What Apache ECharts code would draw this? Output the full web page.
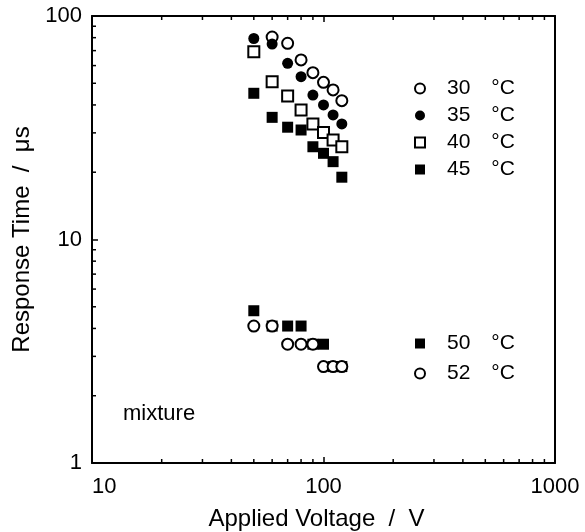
<!DOCTYPE html>
<html>
<head>
<meta charset="utf-8">
<script src="https://cdn.jsdelivr.net/npm/echarts@6/dist/echarts.min.js"></script>
<style>html,body{margin:0;padding:0;background:#fff;}#c{width:585px;height:532px;}</style>
</head>
<body>
<div id="c"></div>
<script>
const voltages = [50, 60, 70, 80, 90, 100, 110, 120];
const t30 = [null, 80.5, 75.5, 63.6, 55.8, 50.5, 46.7, 41.8];
const t35 = [79.3, 74.9, 61.4, 53.5, 44.3, 40.0, 36.1, 32.9];
const t40 = [69.2, 50.8, 43.9, 38.0, 32.9, 30.1, 27.9, 26.0];
const t45 = [45.1, 35.2, 31.8, 30.9, 26.0, 24.3, 22.3, 19.0];
const t50 = [4.8, 4.1, 4.1, 4.1, 3.4, 3.4, 2.7, 2.7];
const t52 = [4.1, 4.1, 3.4, 3.4, 3.4, 2.7, 2.7, 2.7];
const names = ['30\u2002\u2002°C', '35\u2002\u2002°C', '40\u2002\u2002°C', '45\u2002\u2002°C', '50\u2002\u2002°C', '52\u2002\u2002°C'];
const xMinorTicks = [20, 30, 40, 50, 60, 70, 80, 90, 200, 300, 400, 500, 600, 700, 800, 900];
const yMinorTicks = [2, 3, 4, 5, 6, 7, 8, 9, 20, 30, 40, 50, 60, 70, 80, 90];

const FONT = 'Liberation Sans, Arial, sans-serif';
function pairs(arr) {
  const out = [];
  voltages.forEach((v, i) => { if (arr[i] != null) out.push([v, arr[i]]); });
  return out;
}
const openStyle = { color: '#fff', borderColor: '#000', borderWidth: 2, opacity: 1 };
const fillStyle = { color: '#000', borderColor: '#000', borderWidth: 0, opacity: 1 };
function scatter(name, arr, symbol, style) {
  return { type: 'scatter', name, data: pairs(arr), symbol, symbolSize: 11,
    itemStyle: style, emphasis: { disabled: true }, animation: false, z: 3 };
}

const chart = echarts.init(document.getElementById('c'), null, { renderer: 'canvas' });
const axisCommon = {
  type: 'log', logBase: 10,
  axisLine: { show: true, onZero: false, lineStyle: { color: '#000', width: 2 } },
  axisTick: { show: true, inside: true, length: 6, lineStyle: { color: '#000', width: 1.5 } },
  splitLine: { show: false }, minorTick: { show: false }
};
const legendText = { fontFamily: FONT, fontSize: 21, color: '#000', lineHeight: 20, padding: [0, 0, 0, 17] };
chart.setOption({
  animation: false,
  backgroundColor: '#fff',
  grid: { left: 92, right: 30, top: 16, bottom: 69, containLabel: false, outerBoundsMode: 'none' },
  xAxis: [
    Object.assign({}, axisCommon, { min: 10, max: 1000, position: 'bottom',
      name: 'Applied Voltage  /  V', nameLocation: 'middle', nameGap: 44,
      nameTextStyle: { fontFamily: FONT, fontSize: 24, color: '#000', padding: [0, 14, 0, 0] },
      axisLabel: { fontFamily: FONT, fontSize: 22, color: '#000', margin: 13, alignMinLabel: 'left',
        formatter: v => String(v) } }),
    Object.assign({}, axisCommon, { min: 10, max: 1000, position: 'top', axisLabel: { show: false } })
  ],
  yAxis: [
    Object.assign({}, axisCommon, { min: 1, max: 100, position: 'left',
      name: 'Response Time  /  μs', nameLocation: 'middle', nameGap: 58,
      nameTextStyle: { fontFamily: FONT, fontSize: 24, color: '#000' },
      axisLabel: { fontFamily: FONT, fontSize: 22, color: '#000', margin: 10, formatter: v => String(v) } }),
    Object.assign({}, axisCommon, { min: 1, max: 100, position: 'right', axisTick: { show: false }, axisLabel: { show: false } })
  ],
  legend: [
    { data: names.slice(0, 4), orient: 'vertical', left: 414, top: 78, padding: 0, itemWidth: 10, itemHeight: 10, itemGap: 6,
      selectedMode: false, textStyle: legendText },
    { data: names.slice(4), orient: 'vertical', left: 414, top: 333, padding: 0, itemWidth: 10, itemHeight: 10, itemGap: 9,
      selectedMode: false, textStyle: legendText }
  ],
  graphic: [
    { type: 'text', left: 123, top: 403, silent: true,
      style: { text: 'mixture', font: '22px ' + FONT, fill: '#000' } }
  ],
  series: [
    scatter(names[4], t50, 'rect', fillStyle),
    scatter(names[5], t52, 'circle', openStyle),
    scatter(names[3], t45, 'rect', fillStyle),
    scatter(names[2], t40, 'rect', openStyle),
    scatter(names[0], t30, 'circle', openStyle),
    scatter(names[1], t35, 'circle', fillStyle),
    { type: 'custom', silent: true, animation: false, z: 2,
      data: xMinorTicks.map(v => [v, 1]),
      renderItem: function (params, api) {
        const p = api.coord([api.value(0), api.value(1)]);
        const cs = params.coordSys;
        return { type: 'group', children: [
          { type: 'line', shape: { x1: p[0], y1: cs.y + cs.height, x2: p[0], y2: cs.y + cs.height - 4 }, style: { stroke: '#000', lineWidth: 1.5 } },
          { type: 'line', shape: { x1: p[0], y1: cs.y, x2: p[0], y2: cs.y + 4 }, style: { stroke: '#000', lineWidth: 1.5 } }
        ] };
      } },
    { type: 'custom', silent: true, animation: false, z: 2,
      data: yMinorTicks.map(v => [10, v]),
      renderItem: function (params, api) {
        const p = api.coord([api.value(0), api.value(1)]);
        const cs = params.coordSys;
        return { type: 'line', shape: { x1: cs.x, y1: p[1], x2: cs.x + 4, y2: p[1] }, style: { stroke: '#000', lineWidth: 1.5 } };
      } }
  ]
});
</script>
</body>
</html>
